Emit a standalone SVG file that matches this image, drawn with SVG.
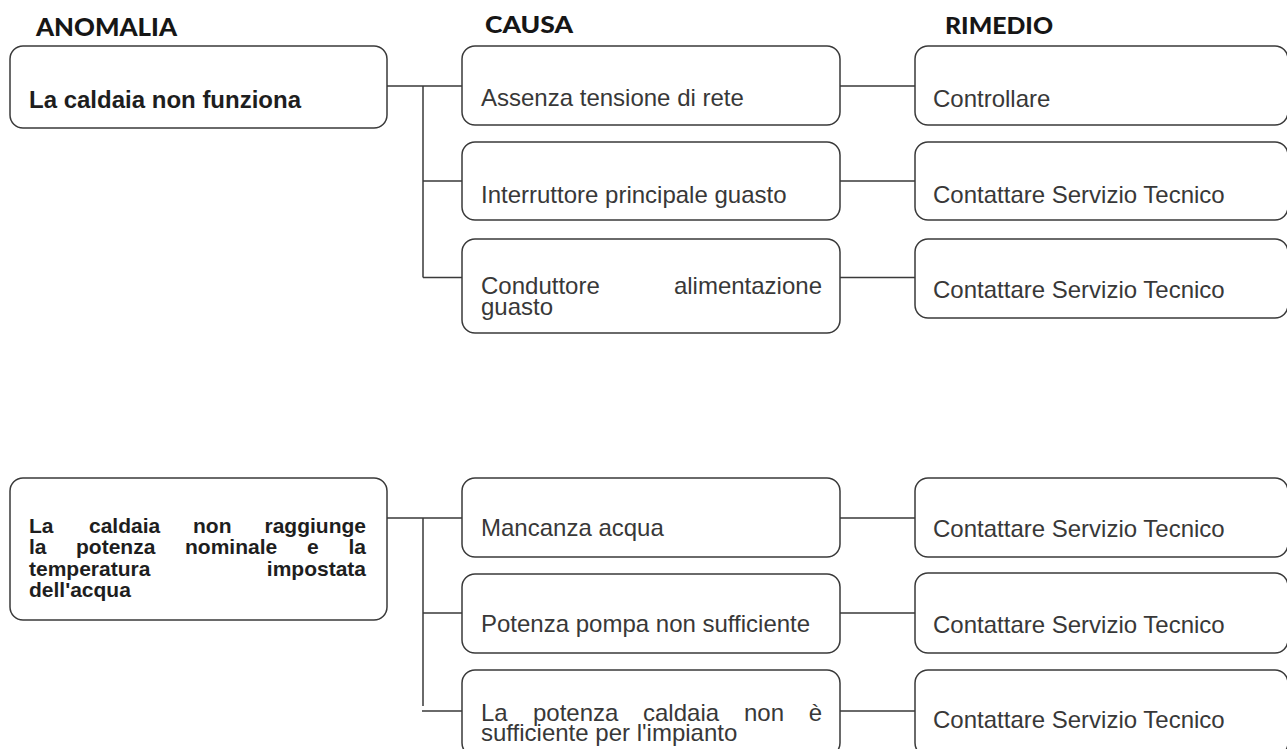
<svg xmlns="http://www.w3.org/2000/svg" width="1287" height="749" viewBox="0 0 1287 749">
<style>
.box{fill:#fff;stroke:#3a3a3a;stroke-width:1.5}
.conn{fill:none;stroke:#3a3a3a;stroke-width:1.5}
.hdr{font-family:"Lato","Liberation Sans",sans-serif;font-weight:900;fill:#161616}
.t{font-family:"Liberation Sans",Arial,sans-serif;font-size:24px;fill:#383838}
.tb{font-family:"Liberation Sans",Arial,sans-serif;font-weight:bold;fill:#1e1e1e}
</style>
<rect width="1287" height="749" fill="#fff"/>
<g id="headers">
<text class="hdr" x="36" y="36" font-size="24" textLength="141" lengthAdjust="spacingAndGlyphs">ANOMALIA</text>
<text class="hdr" x="485" y="33" font-size="22" textLength="88" lengthAdjust="spacingAndGlyphs">CAUSA</text>
<text class="hdr" x="945" y="34" font-size="22" textLength="108" lengthAdjust="spacingAndGlyphs">RIMEDIO</text>
</g>
<g id="connectors">
<path class="conn" d="M387 86H462M423 86V277.5M423 181H462M423 277.5H462M840 86H915M840 181H915M840 277.5H915"/>
<path class="conn" d="M387 518H462M423 518V706M423 613H462M422 711H462M840 518H915M840 613H915M840 711H915"/>
</g>
<g id="n_anom1">
<rect class="box" x="10" y="46" width="377" height="82" rx="13"/>
<text class="tb" x="29" y="108" font-size="24">La caldaia non funziona</text>
</g>
<g id="n_causa1a">
<rect class="box" x="462" y="46" width="378" height="79" rx="13"/>
<text class="t" x="481" y="106">Assenza tensione di rete</text>
</g>
<g id="n_causa1b">
<rect class="box" x="462" y="142" width="378" height="78" rx="13"/>
<text class="t" x="481" y="203">Interruttore principale guasto</text>
</g>
<g id="n_causa1c">
<rect class="box" x="462" y="239" width="378" height="94" rx="13"/>
<text class="t" y="294"><tspan x="481">Conduttore</tspan><tspan x="822" text-anchor="end">alimentazione</tspan></text>
<text class="t" x="481" y="315">guasto</text>
</g>
<g id="n_rim1a">
<rect class="box" x="915" y="46" width="373" height="79" rx="13"/>
<text class="t" x="933" y="107">Controllare</text>
</g>
<g id="n_rim1b">
<rect class="box" x="915" y="142" width="373" height="78" rx="13"/>
<text class="t" x="933" y="203">Contattare Servizio Tecnico</text>
</g>
<g id="n_rim1c">
<rect class="box" x="915" y="239" width="373" height="79" rx="13"/>
<text class="t" x="933" y="298">Contattare Servizio Tecnico</text>
</g>
<g id="n_anom2">
<rect class="box" x="10" y="478" width="377" height="142" rx="13"/>
<text class="tb" font-size="21" y="533"><tspan x="29">La</tspan><tspan x="89">caldaia</tspan><tspan x="193">non</tspan><tspan x="366" text-anchor="end">raggiunge</tspan></text>
<text class="tb" font-size="21" y="554"><tspan x="29">la</tspan><tspan x="76">potenza</tspan><tspan x="185">nominale</tspan><tspan x="307">e</tspan><tspan x="366" text-anchor="end">la</tspan></text>
<text class="tb" font-size="21" y="576"><tspan x="29">temperatura</tspan><tspan x="366" text-anchor="end">impostata</tspan></text>
<text class="tb" font-size="21" x="29" y="597">dell'acqua</text>
</g>
<g id="n_causa2a">
<rect class="box" x="462" y="478" width="378" height="79" rx="13"/>
<text class="t" x="481" y="536">Mancanza acqua</text>
</g>
<g id="n_causa2b">
<rect class="box" x="462" y="574" width="378" height="79" rx="13"/>
<text class="t" x="481" y="632">Potenza pompa non sufficiente</text>
</g>
<g id="n_causa2c">
<rect class="box" x="462" y="670" width="378" height="86" rx="13"/>
<text class="t" y="721"><tspan x="481">La</tspan><tspan x="533">potenza</tspan><tspan x="643">caldaia</tspan><tspan x="744">non</tspan><tspan x="822" text-anchor="end">è</tspan></text>
<text class="t" x="481" y="741">sufficiente per l'impianto</text>
</g>
<g id="n_rim2a">
<rect class="box" x="915" y="478" width="373" height="79" rx="13"/>
<text class="t" x="933" y="537">Contattare Servizio Tecnico</text>
</g>
<g id="n_rim2b">
<rect class="box" x="915" y="573" width="373" height="80" rx="13"/>
<text class="t" x="933" y="633">Contattare Servizio Tecnico</text>
</g>
<g id="n_rim2c">
<rect class="box" x="915" y="670" width="373" height="86" rx="13"/>
<text class="t" x="933" y="728">Contattare Servizio Tecnico</text>
</g>
</svg>
